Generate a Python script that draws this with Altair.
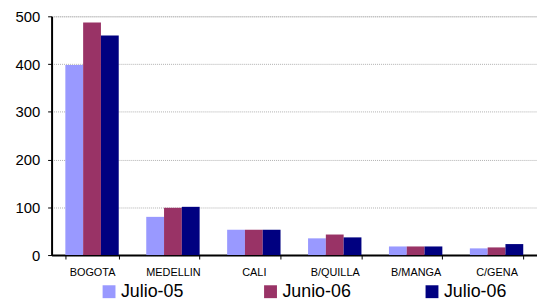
import altair as alt
import pandas as pd

cities = ["BOGOTA", "MEDELLIN", "CALI", "B/QUILLA", "B/MANGA", "C/GENA"]
series = ["Julio-05", "Junio-06", "Julio-06"]
julio05 = [398, 80, 53, 35, 18, 14]
junio06 = [487, 99, 53, 43, 18, 16]
julio06 = [460, 101, 53, 37, 18, 23]
colors = ["#9999FF", "#993366", "#000080"]

rows = []
for s, vals in zip(series, [julio05, junio06, julio06]):
    for c, v in zip(cities, vals):
        rows.append({"city": c, "series": s, "value": v})
df = pd.DataFrame(rows)

FONT = "Liberation Sans"

bars = alt.Chart(df).mark_bar().encode(
    x=alt.X("city:N", sort=cities, title=None,
            scale=alt.Scale(paddingInner=0.34, paddingOuter=0.17),
            axis=alt.Axis(labelAngle=0, labelFontSize=11, labelFont=FONT,
                          labelColor="#000", labelPadding=8,
                          domainColor="#000", domainWidth=2,
                          tickColor="#000", tickSize=4, tickBand="extent",
                          grid=False)),
    xOffset=alt.XOffset("series:N", sort=series,
                        scale=alt.Scale(paddingInner=0, paddingOuter=0)),
    y=alt.Y("value:Q", title=None,
            scale=alt.Scale(domain=[0, 500], nice=False),
            axis=alt.Axis(values=[0, 100, 200, 300, 400, 500],
                          labelFontSize=15, labelFont=FONT, labelColor="#000",
                          labelPadding=8,
                          domainColor="#000", domainWidth=2,
                          tickColor="#000", tickSize=4,
                          gridColor="#b0b0b0", gridDash=[1, 1], gridWidth=1)),
    color=alt.Color("series:N", sort=series,
                    scale=alt.Scale(domain=series, range=colors),
                    legend=alt.Legend(title=None, orient="none",
                                      direction="horizontal", columns=3,
                                      gridAlign="all",
                                      legendX=49, legendY=269,
                                      symbolType="square", symbolSize=169,
                                      symbolStrokeWidth=0, symbolOpacity=1,
                                      labelFontSize=18, labelFont=FONT,
                                      labelColor="#000", labelOffset=3,
                                      columnPadding=72)),
)

chart = bars.properties(width=490, height=241, padding={"left": 6, "top": 0, "right": 0, "bottom": 0}).configure_view(stroke=None).configure(background="white")

chart.save("out.html", embed_options={"renderer": "svg", "actions": False})
